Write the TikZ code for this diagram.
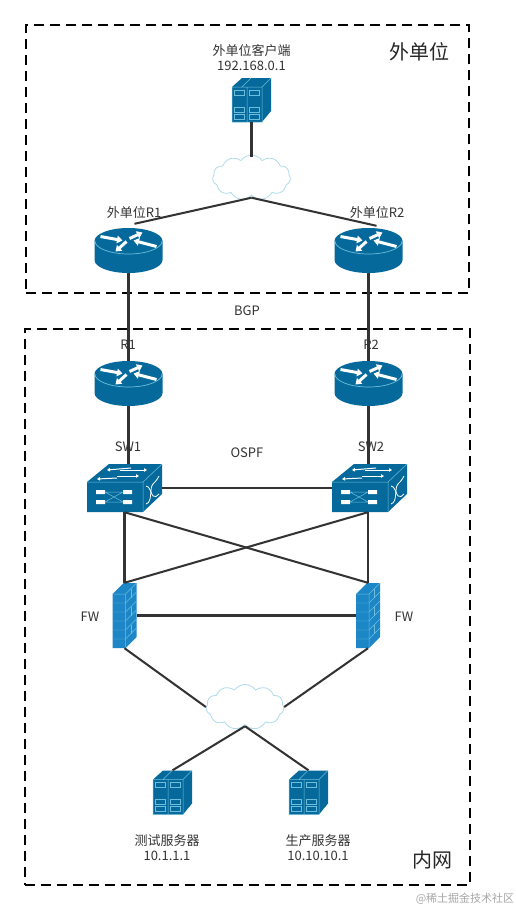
\documentclass[tikz,border=0pt]{standalone}
\usepackage{fontspec}
\setmainfont{Noto Sans CJK SC}
\usepackage{xcolor}
\usetikzlibrary{arrows.meta,shapes.symbols}
\definecolor{devblue}{HTML}{056A9B}
\definecolor{fwblue}{HTML}{1C86C6}
\definecolor{devline}{HTML}{6CBEDC}
\definecolor{wire}{HTML}{333333}
\tikzset{
  wht/.style={white,line width=3pt,-{Triangle[length=5.5pt,width=7.5pt]}},
  thinwht/.style={white,line width=1pt,-{Triangle[length=3pt,width=3.5pt]}},
  routerpic/.pic={
    \fill[devblue] (-34,-9.5) -- (-34,9.5) arc[start angle=180,end angle=0,x radius=34,y radius=13] -- (34,-9.5) arc[start angle=0,end angle=-180,x radius=34,y radius=13] -- cycle;
    \draw[devline,line width=.7pt] (-33.6,-9.5) arc[start angle=180,end angle=0,x radius=33.6,y radius=13];
    \draw[wht] (-28,-14) -- (-6,-10);
    \draw[wht] (1,-12) -- (14,-18);
    \draw[wht] (28,-4) -- (5,-10);
    \draw[wht] (-2,-9) -- (-13,1);
  },
  serverpic/.pic={
    \begin{scope}[shift={(-19.5,-22)}]
    \fill[devblue] (0,9) -- (10,0) -- (39,0) -- (39,33) -- (30,44) -- (0,44) -- cycle;
    \draw[devline,line width=.5pt] (0,9) rectangle (30,44) (30,9) -- (39,0) (10,9) -- (19,0) (15,9) -- (15,44);
    \foreach \ry in {12,29,36} {
      \draw[devline,line width=.4pt] (2.5,\ry) rectangle (12.5,\ry+5) (17.5,\ry) rectangle (27.5,\ry+5);
    }
    \end{scope}
  },
  switchpic/.pic={
    \begin{scope}[shift={(-37.5,-24)}]
    \fill[devblue] (0,18) -- (22,0) -- (75,0) -- (75,30) -- (56,48) -- (0,48) -- cycle;
    \draw[devline,line width=.5pt] (0,18) -- (56,18) -- (75,0) (56,18) -- (56,48);
    \draw[thinwht] (33,6) -- (60,6);
    \draw[thinwht] (44,4) -- (20,6);
    \draw[thinwht] (30,12) -- (52,12);
    \draw[thinwht] (30,14) -- (10,15);
    \fill[white] (9,26) rectangle (18,30) (36,26) rectangle (45,30) (9,36) rectangle (18,40) (36,36) rectangle (45,40);
    \draw[devline,line width=.5pt] (18,28) -- (36,38) (18,38) -- (36,28) (18,28) -- (36,28) (18,38) -- (36,38);
    \draw[white,line width=.8pt] (59,40) .. controls (66,38) and (62,24) .. (66,20) .. controls (68,18) and (70,16) .. (72,12);
    \draw[white,line width=.8pt] (59,22) .. controls (63,22) and (64,30) .. (66,32) .. controls (68,34) and (70,32) .. (72,30);
    \end{scope}
  },
  wallpic/.pic={
    \begin{scope}[shift={(-12,-32.5)}]
    \fill[fwblue] (0,11) -- (11,0) -- (24,0) -- (24,54) -- (13,65) -- (0,65) -- cycle;
    \draw[devline,line width=.5pt] (0,11) -- (13,11) -- (24,0) (13,11) -- (13,65);
    \foreach \ry in {20,29,38,47,56} {
      \draw[devline,line width=.4pt] (0,\ry) -- (13,\ry) -- (24,\ry-11);
    }
    \foreach \ry in {20,38} {
      \draw[devline,line width=.4pt] (18.5,\ry-14) -- (18.5,\ry-5) (18.5,\ry+4) -- (18.5,\ry+13);
    }
    \end{scope}
  }
}

\begin{document}
\begin{tikzpicture}[x=1pt,y=-1pt,
  zone/.style={draw,dashed,dash pattern=on 10pt off 6pt,line width=1.3pt,inner sep=0pt},
  lab/.style={font=\fontsize{13}{15}\selectfont,align=center,text=black!80,inner sep=0pt},
  biglab/.style={font=\fontsize{20}{22}\selectfont,text=black!85,inner sep=0pt},
  router/.style={inner sep=0pt,minimum width=68pt,minimum height=45pt},
  server/.style={inner sep=0pt,minimum width=39pt,minimum height=44pt},
  switchbox/.style={inner sep=0pt,minimum width=75pt,minimum height=48pt},
  wall/.style={inner sep=0pt,minimum width=24pt,minimum height=65pt},
  net/.style={cloud,cloud puffs=11,cloud puff arc=110,aspect=1.7,draw=devline!55,fill=white,line width=.8pt,inner sep=0pt,minimum width=78pt,minimum height=45pt},
  wireline/.style={draw=wire,line width=2.03pt}]
\useasboundingbox (0,0) rectangle (516,910);
\node[zone,minimum width=443pt,minimum height=268pt] (zoneout) at (247.5,159) {};
\node[zone,minimum width=445pt,minimum height=556pt] (zonein) at (247.5,607) {};
\node[biglab] (outname) at (419,52) {外单位};
\node[biglab] (inname) at (432,860) {内网};
\node[lab] (clientlab) at (251.5,57.5) {外单位客户端\\192.168.0.1};
\node[lab] (or1lab) at (134,213) {外单位R1};
\node[lab] (or2lab) at (377,213) {外单位R2};
\node[lab] (bgplab) at (247,311) {BGP};
\node[lab] (r1lab) at (128,345) {R1};
\node[lab] (r2lab) at (371,345) {R2};
\node[lab] (sw1lab) at (128,447) {SW1};
\node[lab] (sw2lab) at (371,447) {SW2};
\node[lab] (ospflab) at (247,453) {OSPF};
\node[lab] (fw1lab) at (90,617) {FW};
\node[lab] (fw2lab) at (404,617) {FW};
\node[lab] (s1lab) at (167,847.5) {测试服务器\\10.1.1.1};
\node[lab] (s2lab) at (318,847.5) {生产服务器\\10.10.10.1};
\node[font=\fontsize{11}{13}\selectfont,text=black!35,inner sep=0pt] (marklab) at (465,899) {@稀土掘金技术社区};
\node[server] (client) at (251.5,100) {};
\node[net] (cloudout) at (251.5,177.5) {};
\node[router] (or1) at (128.5,250.5) {};
\node[router] (or2) at (368.5,250.5) {};
\node[router] (r1) at (128.5,383.5) {};
\node[router] (r2) at (368.5,383.5) {};
\node[switchbox] (sw1) at (124.5,488) {};
\node[switchbox] (sw2) at (369.5,488) {};
\node[wall] (fw1) at (124.5,615.5) {};
\node[wall] (fw2) at (368,615.5) {};
\node[net] (cloudin) at (245,707) {};
\node[server] (s1) at (172.5,792.5) {};
\node[server] (s2) at (308.5,792.5) {};
\foreach \dev in {or1,or2,r1,r2} {\pic at (\dev) {routerpic};}
\foreach \dev in {client,s1,s2} {\pic at (\dev) {serverpic};}
\foreach \dev in {sw1,sw2} {\pic at (\dev) {switchpic};}
\foreach \dev in {fw1,fw2} {\pic at (\dev) {wallpic};}
\draw[wireline] (client.south) -- ([yshift=-2pt]cloudout.north);
\draw[wireline] ([yshift=-2pt]cloudout.south) -- ([xshift=6pt,yshift=4pt]or1.north);
\draw[wireline] ([yshift=-2pt]cloudout.south) -- ([xshift=8pt,yshift=2pt]or2.north);
\draw[wireline] (or1.south) -- (r1.north);
\draw[wireline] (or2.south) -- (r2.north);
\draw[wireline] (r1.south) -- (sw1.north -| r1.south);
\draw[wireline] (r2.south) -- (sw2.north -| r2.south);
\draw[wireline] (sw1.east) -- (sw2.west);
\draw[wireline] (sw1.south) -- (fw1.north);
\draw[wireline] (sw2.south -| fw2.north) -- (fw2.north);
\draw[wireline] (sw1.south) -- (fw2.north);
\draw[wireline] (sw2.south -| fw2.north) -- (fw1.north);
\draw[wireline] (fw1.east) -- (fw2.west);
\draw[wireline] (fw1.south) -- (cloudin.west);
\draw[wireline] (fw2.south) -- (cloudin.east);
\draw[wireline] ([yshift=-1pt]cloudin.south) -- (s1.north);
\draw[wireline] ([yshift=-1pt]cloudin.south) -- (s2.north);
\end{tikzpicture}
\end{document}
